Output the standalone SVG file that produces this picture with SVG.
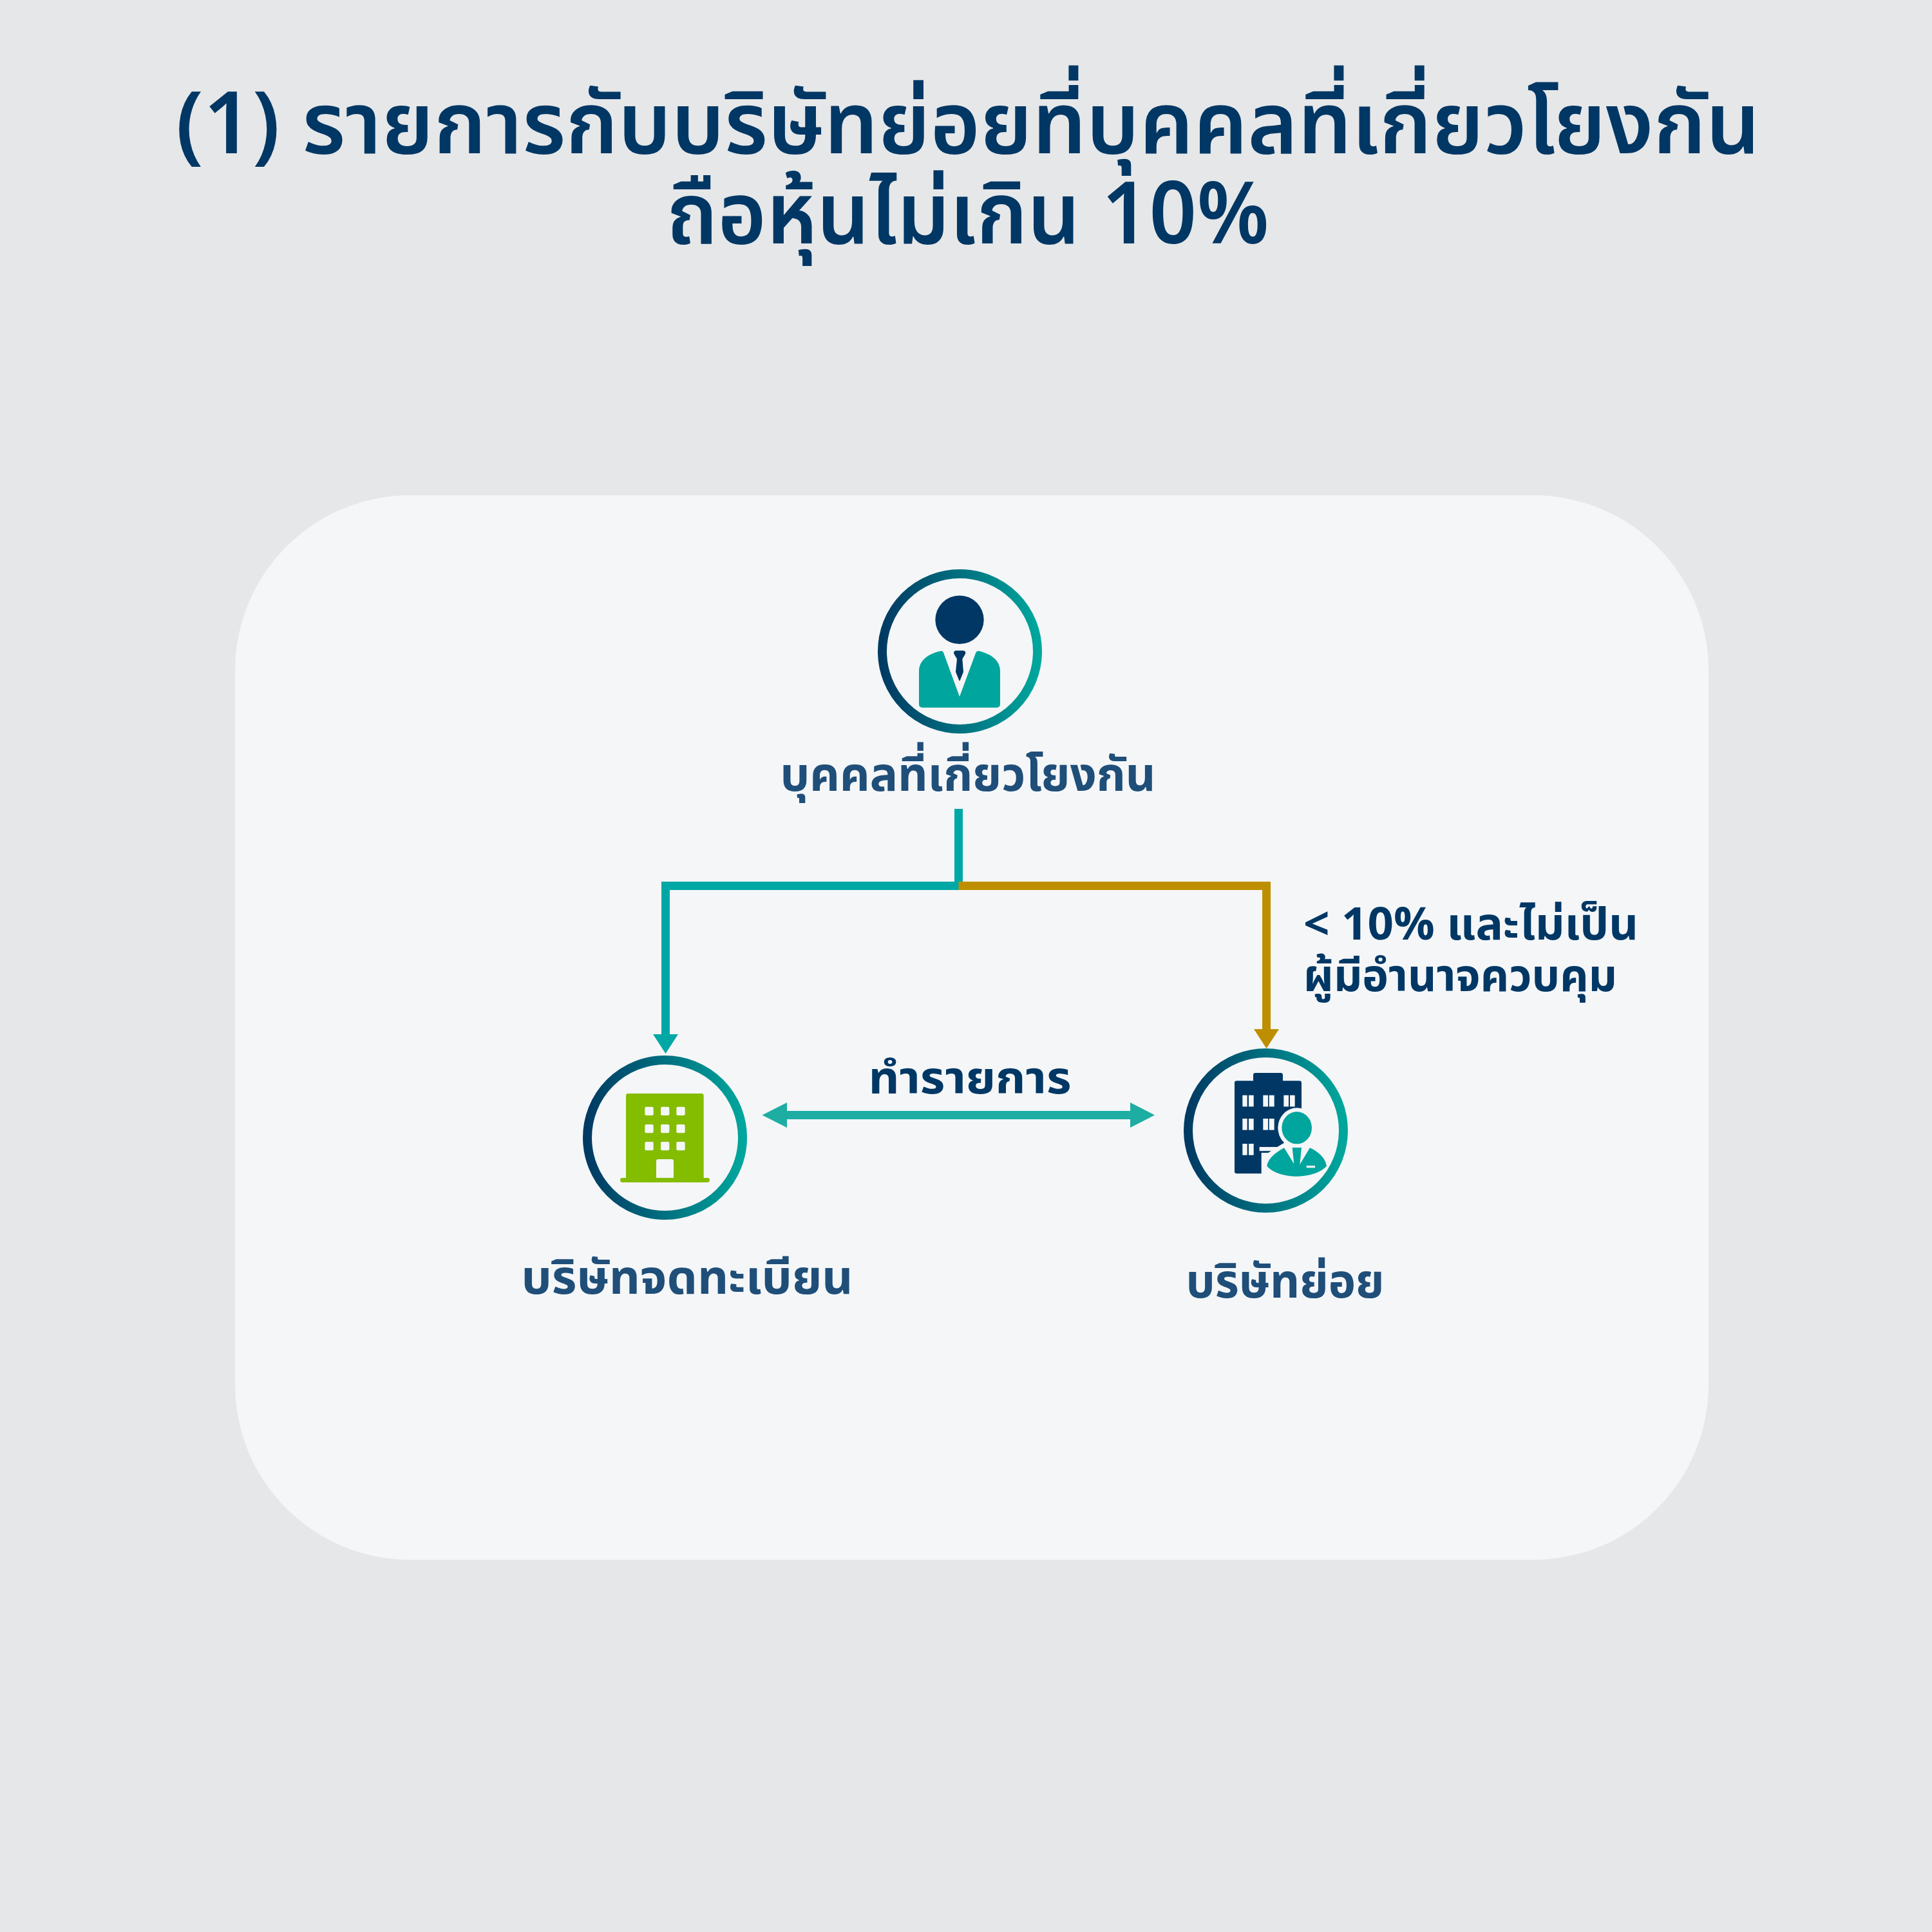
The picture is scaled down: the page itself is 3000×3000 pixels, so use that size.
<svg xmlns="http://www.w3.org/2000/svg" width="3000" height="3000" viewBox="0 0 3000 3000">
<style>
.t{font-family:"Noto Sans Thai","Noto Sans","Noto Sans CJK SC",sans-serif;font-weight:700}
.title{font-size:133px;fill:#003764;text-anchor:middle;font-weight:600}
.label{font-size:73px;fill:#1f4e79;text-anchor:middle}
.note{font-size:70px;fill:#003764}
.ring{fill:none;stroke:url(#ring);stroke-width:14}
.light{fill:#f4f6f8}
.tealf{fill:#00a59d}
.navyf{fill:#003764}
</style>
<defs>
<linearGradient id="ring" x1="0" y1="0" x2="1" y2="0"><stop offset="0" stop-color="#003a63"/><stop offset="1" stop-color="#00a69c"/></linearGradient>
</defs>
<rect width="3000" height="3000" fill="#e6e7e9"/>
<rect x="365" y="769" width="2288" height="1653" rx="272" fill="#f4f6f8"/>
<text class="t title" x="1503" y="238" textLength="2460" lengthAdjust="spacingAndGlyphs">(1) รายการกับบริษัทย่อยที่บุคคลที่เกี่ยวโยงกัน</text>
<text class="t title" x="1503" y="378" textLength="936" lengthAdjust="spacingAndGlyphs">ถือหุ้นไม่เกิน 10%</text>
<g id="connectors">
<path d="M1488.5 1256V1375.5H1033.500V1610" fill="none" stroke="#00a8a5" stroke-width="13"/>
<path d="M1014 1606H1053L1033.500 1636Z" fill="#00a8a5"/>
<path d="M1488.500 1375.500H1966.500V1602" fill="none" stroke="#bd8f00" stroke-width="13"/>
<path d="M1947 1598H1986L1966.500 1628Z" fill="#bd8f00"/>
<path d="M1215 1731.500H1762" fill="none" stroke="#1dada3" stroke-width="13"/>
<path d="M1183.500 1731.500L1222 1712V1751Z" fill="#1dada3"/>
<path d="M1793 1731.500L1755 1712V1751Z" fill="#1dada3"/>
</g>
<text class="t note" x="1506" y="1698" text-anchor="middle" textLength="315" lengthAdjust="spacingAndGlyphs">ทำรายการ</text>
<g id="note"><text class="t note" x="2024" y="1459" textLength="520" lengthAdjust="spacingAndGlyphs">&lt; 10% และไม่เป็น</text>
<text class="t note" x="2024" y="1539" textLength="487" lengthAdjust="spacingAndGlyphs">ผู้มีอำนาจควบคุม</text></g>
<g id="person">
<circle class="ring" cx="1490.500" cy="1011.500" r="120.500"/>
<g transform="translate(1330 860) scale(.33333)">
<circle class="navyf" cx="480" cy="307" r="113"/>
<path class="tealf" d="M291 700V545C291 500 330 465 395 452Q402 452 405 460L480 665L556 460Q560 452 567 452C630 465 669 500 669 545V700Q669 716 653 716H307Q291 716 291 700Z"/>
<path class="navyf" d="M465 451H495Q511 452 507 466L493 490L498 550L482 590Q480 592 478 590L462 550L468 490L454 466Q450 452 465 451Z"/>
</g>
<text class="t label" x="1503" y="1228" textLength="583" lengthAdjust="spacingAndGlyphs">บุคคลที่เกี่ยวโยงกัน</text>
</g>
<g id="listed">
<circle class="ring" cx="1032.500" cy="1766.500" r="120.500"/>
<g transform="translate(880 1620) scale(.33333)">
<path fill="#84bd00" d="M276 627V244Q276 234 286 234H628Q638 234 638 244V627H655Q666 627 666 637Q666 648 655 648H260Q249 648 249 637Q249 627 260 627Z"/>
<g class="light">
<rect x="364" y="296" width="40" height="40" rx="6"/><rect x="438" y="296" width="40" height="40" rx="6"/><rect x="511" y="296" width="40" height="40" rx="6"/>
<rect x="364" y="378" width="40" height="40" rx="6"/><rect x="438" y="378" width="40" height="40" rx="6"/><rect x="511" y="378" width="40" height="40" rx="6"/>
<rect x="364" y="459" width="40" height="40" rx="6"/><rect x="438" y="459" width="40" height="40" rx="6"/><rect x="511" y="459" width="40" height="40" rx="6"/>
<path d="M417 627V550Q417 540 427 540H488Q498 540 498 550V627Z"/>
</g>
</g>
<text class="t label" x="1067" y="2009" textLength="515" lengthAdjust="spacingAndGlyphs">บริษัทจดทะเบียน</text>
</g>
<g id="subsidiary">
<circle class="ring" cx="1965.500" cy="1755.500" r="120.500"/>
<g transform="translate(1820 1600) scale(.33333)">
<path class="navyf" d="M291 245Q291 235 301 235H378V208Q378 198 388 198H506Q516 198 516 208V235H593Q603 235 603 245V420L520 525L490 543H407V562H462L448 570H416V667H301Q291 667 291 657Z"/>
<g class="light">
<rect x="328" y="302" width="22" height="53"/><rect x="357" y="302" width="23" height="53"/>
<rect x="424" y="302" width="23" height="53"/><rect x="452" y="302" width="24" height="53"/>
<rect x="520" y="302" width="23" height="53"/><rect x="549" y="302" width="23" height="53"/>
<rect x="328" y="411" width="22" height="53"/><rect x="357" y="411" width="23" height="53"/>
<rect x="424" y="411" width="23" height="53"/><rect x="452" y="411" width="24" height="53"/>
<rect x="328" y="528" width="22" height="53"/><rect x="357" y="528" width="23" height="53"/>
</g>
<ellipse class="light" cx="581" cy="454" rx="88" ry="93"/>
<ellipse class="tealf" cx="581" cy="454" rx="70" ry="75"/>
<path class="tealf" d="M442 632C450 590 490 565 522 547L568 622L560 546H603L595 625L642 547C680 565 712 590 720 632C690 665 630 680 581 680C530 680 470 665 442 632Z"/>
<rect class="light" x="626" y="630" width="40" height="10"/>
</g>
<text class="t label" x="1995.500" y="2015" textLength="308" lengthAdjust="spacingAndGlyphs">บริษัทย่อย</text>
</g>
</svg>
